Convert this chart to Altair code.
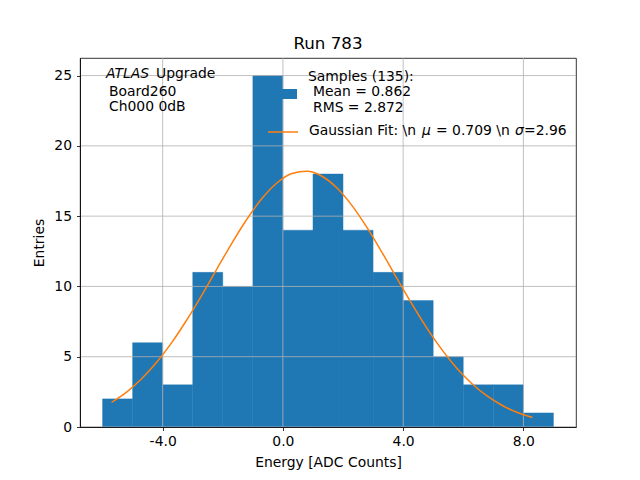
import altair as alt
import pandas as pd

# ---- data ----
bin_lo = [-6, -5, -4, -3, -2, -1, 0, 1, 2, 3, 4, 5, 6, 7, 8]
bin_hi = [-5, -4, -3, -2, -1, 0, 1, 2, 3, 4, 5, 6, 7, 8, 9]
counts = [2, 6, 3, 11, 10, 25, 14, 18, 14, 11, 9, 5, 3, 3, 1]

fit_x = [-5.7, -5.2, -4.7, -4.2, -3.7, -3.2, -2.7, -2.2, -1.7, -1.2, -0.7, -0.2,
         0.3, 0.8, 1.3, 1.8, 2.3, 2.8, 3.3, 3.8, 4.3, 4.8, 5.3, 5.8, 6.3, 6.8,
         7.3, 7.8, 8.3]
fit_y = [1.75, 2.48, 3.43, 4.60, 6.00, 7.61, 9.37, 11.23, 13.07, 14.78, 16.25,
         17.36, 18.03, 18.19, 17.84, 17.00, 15.75, 14.18, 12.41, 10.55, 8.72,
         7.00, 5.47, 4.15, 3.06, 2.19, 1.53, 1.03, 0.68]

x_ticks = [-4, 0, 4, 8]
y_ticks = [0, 5, 10, 15, 20, 25]

title_text = "Run 783"
x_title = "Energy [ADC Counts]"
y_title = "Entries"

FONT = "DejaVu Sans"
FS = 13.9
BLUE = "#1f77b4"
ORANGE = "#ff7f0e"
W, H = 496, 369

hist = pd.DataFrame({"lo": bin_lo, "hi": bin_hi, "n": counts})
fit = pd.DataFrame({"x": fit_x, "y": fit_y})
xg = pd.DataFrame({"x": x_ticks})
yg = pd.DataFrame({"y": y_ticks})

xscale = alt.Scale(domain=[-6.75, 9.75], nice=False, zero=False)
yscale = alt.Scale(domain=[0, 26.25], nice=False, zero=False)

xaxis = alt.Axis(values=x_ticks, grid=False, title=x_title,
                 labelExpr="replace(format(datum.value, '.1f'), '\u2212', '-')",
                 titleY=35, titleBaseline="middle", labelPadding=4, zindex=1)
yaxis = alt.Axis(values=y_ticks, format="d", grid=False, title=y_title,
                 titleX=-41, titleY=H / 2, titleAngle=-90, titleBaseline="middle",
                 titleAlign="center", labelPadding=5, zindex=1)

bars = alt.Chart(hist).mark_rect(color=BLUE, stroke=BLUE, strokeWidth=0.4).encode(
    x=alt.X("lo:Q", scale=xscale, axis=xaxis),
    x2="hi:Q",
    y=alt.Y("n:Q", scale=yscale, axis=yaxis),
    y2=alt.datum(0),
)

gx = alt.Chart(xg).mark_rule(color="#b0b0b0", strokeWidth=0.8).encode(
    x=alt.X("x:Q", scale=xscale), y=alt.value(0), y2=alt.value(H))
gy = alt.Chart(yg).mark_rule(color="#b0b0b0", strokeWidth=0.8).encode(
    y=alt.Y("y:Q", scale=yscale), x=alt.value(0), x2=alt.value(W))

curve = alt.Chart(fit).mark_line(color=ORANGE, strokeWidth=1.5,
                                 interpolate="monotone").encode(
    x=alt.X("x:Q", scale=xscale), y=alt.Y("y:Q", scale=yscale))

one = alt.Data(values=[{}])


def txt(s, x, y, style="normal", size=FS, align="left"):
    return alt.Chart(one).mark_text(font=FONT, fontSize=size, fontStyle=style,
                                    align=align, baseline="middle",
                                    color="black").encode(
        x=alt.value(x), y=alt.value(y), text=alt.value(s))


patch = alt.Chart(one).mark_rect(color=BLUE).encode(
    x=alt.value(189), x2=alt.value(217), y=alt.value(31), y2=alt.value(41))
lleg = alt.Chart(one).mark_rule(color=ORANGE, strokeWidth=1.5).encode(
    x=alt.value(188), x2=alt.value(218), y=alt.value(74))

texts = [
    txt(title_text, W / 2, -14, size=16.7, align="center"),
    txt("ATLAS", 26, 16, style="italic"),
    txt("Upgrade", 76, 16),
    txt("Board260", 29, 34),
    txt("Ch000 0dB", 29, 49),
    txt("Samples (135):", 228, 19),
    txt("Mean = 0.862", 233, 34),
    txt("RMS = 2.872", 233, 50),
    txt("Gaussian Fit: \\n", 229, 73),
    txt("\u03bc", 342, 73, style="italic"),
    txt("= 0.709 \\n", 356, 73),
    txt("\u03c3", 435, 73, style="italic"),
    txt("=2.96", 444, 73),
]

chart = alt.layer(bars, gx, gy, curve, patch, lleg, *texts).properties(
    width=W, height=H,
    background="white",
    autosize=alt.AutoSizeParams(type="none"),
    padding={"left": 72, "top": 50, "right": 56, "bottom": 45},
).configure_view(stroke="black", strokeWidth=0.8).configure_axis(
    labelFont=FONT, labelFontSize=FS, labelColor="black",
    titleFont=FONT, titleFontSize=FS, titleFontWeight="normal", titleColor="black",
    tickColor="black", tickSize=3.5, tickWidth=0.8,
    domainColor="black", domainWidth=0.8,
)

chart.save("out.html", embed_options={"renderer": "svg", "actions": False})
